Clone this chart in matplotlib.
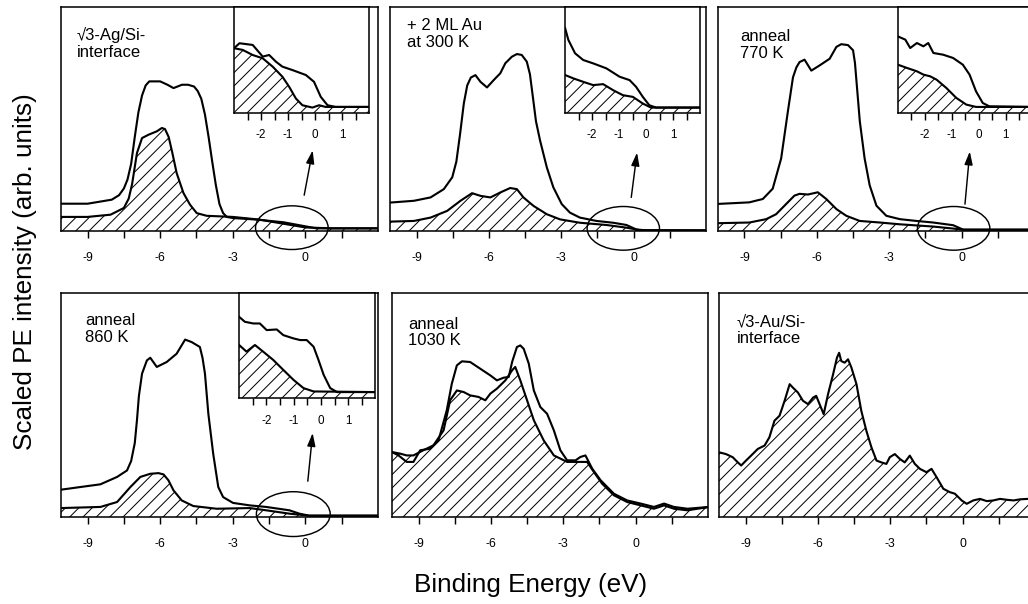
import matplotlib
matplotlib.use("Agg")
import matplotlib.pyplot as plt
from matplotlib.patches import Ellipse

plt.rcParams['font.family'] = ['Liberation Sans', 'DejaVu Sans']
plt.rcParams['axes.unicode_minus'] = False
plt.rcParams['hatch.linewidth'] = 0.9

# ---- data (binding energy in eV, intensity in arb. units 0-100) ----
labels = ['√3-Ag/Si-\ninterface', '+ 2 ML Au\nat 300 K', 'anneal\n770 K',
          'anneal\n860 K', 'anneal\n1030 K', '√3-Au/Si-\ninterface']

# panel 1: sqrt3-Ag/Si interface
p1_e_tot = [-10.1, -9.0, -8.0, -7.7, -7.5, -7.35, -7.2, -7.05, -6.9, -6.75, -6.6, -6.45, -6.0,
            -5.7, -5.45, -5.1, -4.85, -4.6, -4.45, -4.3, -4.15, -4.0, -3.85, -3.7, -3.55,
            -3.4, -3.25, -3.0, -2.0, -0.9, 0.0, 0.45, 3.0]
p1_tot = [12.2, 12.2, 14.0, 16.0, 19.0, 23.0, 30.0, 42.0, 53.0, 60.5, 65.0, 66.8, 66.8,
          65.3, 63.8, 65.3, 65.3, 64.5, 62.5, 59.0, 52.0, 42.0, 31.0, 20.5, 12.0,
          8.0, 6.3, 5.8, 5.1, 3.9, 2.1, 1.2, 1.2]
p1_e_h = [-10.1, -9.0, -8.05, -7.5, -7.3, -7.16, -6.96, -6.75, -6.48, -6.14, -5.93, -5.8,
          -5.65, -5.5, -5.32, -5.04, -4.77, -4.49, -4.08, -3.0, -1.9, -0.93, 0.0, 1.1, 3.0]
p1_h = [6.3, 6.3, 7.3, 10.3, 14.5, 21.0, 34.8, 41.5, 43.0, 44.5, 46.0, 45.5,
        42.0, 35.0, 25.9, 17.0, 11.8, 8.0, 6.8, 6.3, 5.1, 3.3, 1.6, 1.2, 1.2]
p1_ins_e_tot = [-3.0, -2.8, -2.31, -1.94, -1.7, -1.45, -1.21, -0.84, -0.34, -0.04, 0.21, 0.46, 0.76, 2.0]
p1_ins_tot = [61.1, 65.8, 64.2, 53.2, 54.7, 48.4, 43.7, 40.5, 35.8, 29.4, 15.2, 7.3, 5.7, 5.7]
p1_ins_e_h = [-3.0, -2.68, -2.31, -1.94, -1.57, -1.21, -0.96, -0.71, -0.47, -0.1, 0.15, 0.39, 2.0]
p1_ins_h = [61.1, 59.5, 54.7, 51.6, 43.7, 34.2, 24.7, 13.6, 7.3, 5.1, 7.3, 5.7, 5.7]

# panel 2: + 2 ML Au at 300 K
p2_e_tot = [-10.1, -9.11, -8.42, -7.87, -7.52, -7.35, -7.2, -7.04, -6.9, -6.75, -6.56, -6.35,
            -6.08, -5.8, -5.53, -5.32, -5.05, -4.84, -4.64, -4.43, -4.3, -4.18, -4.05, -3.88,
            -3.6, -3.33, -2.98, -2.64, -2.23, -1.54, -0.85, -0.3, 0.11, 0.52, 3.0]
p2_tot = [12.7, 13.5, 15.0, 18.7, 24.0, 31.0, 43.0, 57.0, 65.0, 68.5, 69.6, 66.6,
          64.1, 67.4, 70.4, 74.9, 77.8, 79.0, 78.6, 75.6, 70.0, 60.0, 49.0, 40.4,
          28.4, 19.5, 12.0, 8.2, 6.0, 4.5, 3.7, 2.7, 0.7, 0.3, 0.3]
p2_e_h = [-10.1, -9.11, -8.42, -7.73, -7.18, -6.7, -6.35, -5.94, -5.53, -5.12, -4.84, -4.57,
          -4.15, -3.6, -3.05, -2.23, -1.13, -0.3, 0.25, 3.0]
p2_h = [4.2, 4.5, 6.0, 9.0, 13.5, 16.9, 15.7, 15.0, 17.2, 19.2, 18.7, 15.0,
        11.2, 7.5, 5.2, 3.7, 2.7, 1.5, 0.4, 0.3]
p2_ins_e_tot = [-3.0, -2.88, -2.63, -2.33, -1.96, -1.47, -0.98, -0.61, -0.37, -0.12, 0.12, 0.37, 2.0]
p2_ins_tot = [80.1, 69.0, 56.3, 50.0, 46.8, 42.1, 34.2, 31.0, 24.7, 15.2, 7.3, 5.1, 5.1]
p2_ins_e_h = [-3.0, -2.69, -2.33, -1.96, -1.59, -1.22, -0.86, -0.49, -0.12, 0.18, 2.0]
p2_ins_h = [35.8, 32.6, 29.4, 26.3, 27.2, 21.5, 16.8, 15.2, 8.9, 5.1, 5.1]

# panel 3: anneal 770 K
p3_e_tot = [-10.1, -9.35, -8.8, -8.24, -7.83, -7.48, -7.2, -6.99, -6.85, -6.72, -6.51, -6.23,
            -5.89, -5.47, -5.19, -4.99, -4.71, -4.5, -4.42, -4.32, -4.22, -4.02, -3.81, -3.53,
            -3.12, -2.56, -1.87, -1.18, -0.35, 0.07, 3.0]
p3_tot = [12.1, 12.5, 12.8, 14.3, 18.9, 32.4, 53.5, 68.6, 73.0, 75.4, 76.5, 71.6,
          73.9, 76.9, 82.2, 83.4, 83.0, 80.7, 75.0, 62.0, 49.0, 32.4, 20.4, 11.3,
          6.8, 5.3, 4.5, 3.8, 2.6, 0.6, 0.6]
p3_e_h = [-10.1, -8.8, -8.1, -7.69, -7.27, -6.93, -6.72, -6.37, -5.96, -5.61, -5.19, -4.78,
          -4.22, -3.39, -2.56, -1.18, -0.35, 0.07, 3.0]
p3_h = [3.5, 3.8, 5.3, 7.5, 12.1, 15.8, 16.6, 16.3, 17.3, 14.3, 9.8, 6.8,
        4.5, 3.8, 3.0, 2.0, 1.1, 0.6, 0.6]
p3_ins_e_tot = [-3.0, -2.72, -2.54, -2.29, -2.05, -1.87, -1.68, -1.32, -0.95, -0.59, -0.34,
                -0.1, 0.15, 0.39, 2.0]
p3_ins_tot = [72.3, 69.2, 61.3, 66.0, 62.9, 66.0, 56.6, 55.0, 51.9, 45.6, 36.2,
              20.4, 9.4, 6.3, 5.7]
p3_ins_e_h = [-3.0, -2.66, -2.29, -2.05, -1.8, -1.56, -1.2, -0.83, -0.46, -0.1, 2.0]
p3_ins_h = [45.6, 42.5, 39.3, 36.2, 34.6, 31.4, 23.6, 14.2, 7.9, 5.7, 5.7]

# panel 4: anneal 860 K
p4_e_tot = [-10.1, -9.29, -8.47, -7.78, -7.37, -7.2, -7.05, -6.96, -6.88, -6.75, -6.55, -6.41,
            -6.14, -5.73, -5.32, -4.97, -4.7, -4.36, -4.25, -4.15, -4.01, -3.81, -3.6, -3.4,
            -2.99, -2.3, -1.62, -0.66, -0.25, 0.16, 3.0]
p4_tot = [12.2, 13.4, 14.6, 17.9, 20.8, 25.0, 33.0, 43.2, 54.0, 64.0, 69.9, 71.1,
          67.0, 69.2, 72.9, 79.2, 78.1, 75.9, 71.0, 64.0, 46.1, 28.3, 13.4, 8.9,
          6.3, 5.2, 4.5, 3.0, 1.5, 0.6, 0.6]
p4_e_h = [-10.1, -8.47, -7.78, -7.23, -6.82, -6.41, -6.07, -5.86, -5.66, -5.45, -5.11, -4.63,
          -3.67, -2.3, -1.62, -0.66, 0.16, 3.0]
p4_h = [4.0, 4.5, 6.7, 13.4, 17.9, 19.3, 19.6, 19.0, 16.4, 11.9, 7.4, 4.9,
        3.7, 4.0, 3.0, 1.5, 0.6, 0.6]
p4_ins_e_tot = [-3.0, -2.79, -2.48, -2.24, -1.99, -1.62, -1.38, -1.01, -0.76, -0.52, -0.27,
                -0.09, 0.1, 0.34, 0.59, 2.0]
p4_ins_tot = [77.3, 72.6, 71.0, 71.0, 64.7, 65.3, 59.9, 56.8, 55.2, 55.2, 48.9,
              36.3, 22.1, 9.5, 5.7, 5.7]
p4_ins_e_h = [-3.0, -2.73, -2.42, -2.12, -1.75, -1.38, -1.01, -0.64, -0.27, 2.0]
p4_ins_h = [50.5, 44.2, 50.5, 44.2, 36.3, 26.8, 17.4, 9.5, 6.3, 5.7]

# panel 5: anneal 1030 K
p5_e_tot = [-10.1, -9.83, -9.49, -9.21, -8.93, -8.52, -8.17, -7.83, -7.62, -7.41, -7.2, -6.86,
            -6.44, -6.02, -5.75, -5.47, -5.26, -5.12, -4.92, -4.78, -4.64, -4.43, -4.22, -3.95,
            -3.67, -3.39, -3.12, -2.84, -2.49, -2.29, -2.08, -1.8, -1.45, -0.9, -0.35, 0.21,
            0.76, 1.18, 1.59, 2.15, 3.05]
p5_tot = [29.0, 27.5, 24.6, 24.6, 29.8, 30.5, 34.2, 47.6, 59.5, 67.7, 69.5, 69.2,
          66.2, 63.2, 61.0, 62.2, 62.5, 69.2, 75.9, 76.6, 75.1, 68.5, 56.5, 49.1,
          46.1, 38.7, 29.8, 25.3, 25.3, 26.8, 27.5, 21.6, 16.4, 10.4, 7.4, 6.0,
          4.5, 6.0, 4.5, 3.7, 4.5]
p5_e_h = [-10.1, -9.76, -9.49, -9.21, -8.8, -8.38, -7.96, -7.69, -7.41, -7.13, -6.86, -6.51,
          -6.23, -6.02, -5.75, -5.4, -5.12, -4.99, -4.78, -4.5, -4.22, -3.81, -3.39, -2.84,
          -2.35, -2.01, -1.73, -1.39, -0.9, -0.35, 0.21, 0.76, 1.18, 1.59, 2.15, 3.05]
p5_h = [29.0, 28.3, 27.5, 27.5, 29.8, 32.0, 38.7, 52.1, 56.5, 55.8, 54.3, 53.6,
        52.1, 55.1, 57.3, 61.0, 65.5, 67.0, 61.0, 52.1, 43.2, 34.2, 27.5, 24.6,
        24.6, 24.6, 20.1, 14.9, 9.7, 6.7, 5.2, 3.7, 5.2, 3.7, 3.0, 4.5]

# panel 6: sqrt3-Au/Si interface (hatched only)
p6_e_h = [-10.1, -9.81, -9.53, -9.32, -9.18, -8.98, -8.77, -8.49, -8.21, -8.01, -7.8, -7.59,
          -7.38, -7.17, -7.04, -6.83, -6.62, -6.41, -6.2, -6.07, -5.93, -5.76, -5.58, -5.37,
          -5.21, -5.12, -5.03, -4.89, -4.75, -4.61, -4.4, -4.2, -3.99, -3.78, -3.57, -3.37,
          -3.16, -3.02, -2.81, -2.6, -2.4, -2.19, -1.98, -1.77, -1.5, -1.29, -1.08, -0.8,
          -0.53, -0.32, -0.04, 0.17, 0.44, 0.72, 1.0, 1.27, 1.55, 1.83, 2.11, 2.38, 2.71, 3.0]
p6_h = [28.9, 28.1, 26.7, 24.4, 23.0, 25.2, 27.4, 30.4, 31.9, 35.6, 43.0, 45.2,
        51.9, 59.3, 57.8, 55.6, 51.9, 50.4, 53.3, 54.1, 50.4, 45.9, 54.8, 63.7,
        71.1, 73.3, 69.6, 68.9, 70.4, 66.7, 59.3, 47.4, 38.5, 31.1, 25.2, 24.4,
        23.7, 26.7, 28.1, 25.9, 24.4, 27.4, 23.7, 21.5, 20.0, 21.5, 17.8, 12.6,
        11.1, 10.4, 7.4, 5.9, 7.4, 8.1, 7.1, 7.4, 8.1, 7.7, 7.4, 7.9, 8.1, 8.6]

# Fermi-level zoom markers: ellipse (centre E, centre I, width E, height I), arrow start/end
ellipses = [(-0.56, 1.5, 3.0, 19.5), (-0.43, 1.2, 3.0, 19.5), (-0.33, 1.2, 3.0, 19.5),
            (-0.5, 1.3, 3.05, 20.0)]
arrows = [((-0.05, 16), (0.3, 36)), ((-0.1, 15), (0.14, 35)), ((0.14, 12), (0.34, 35.5)),
          ((0.1, 16), (0.3, 37.5))]

# ---- layout ----
fig = plt.figure(figsize=(12.85, 7.55), dpi=80)

rects = [[0.0593, 0.6175, 0.3084, 0.3709], [0.3794, 0.6175, 0.3074, 0.3709],
         [0.6984, 0.6175, 0.3074, 0.3709], [0.0593, 0.1440, 0.3084, 0.3709],
         [0.3813, 0.1440, 0.3074, 0.3709], [0.6994, 0.1440, 0.3074, 0.3709]]
inset_rects = [[0.546, 0.527, 0.426, 0.473], [0.554, 0.527, 0.427, 0.473],
               [0.569, 0.527, 0.427, 0.473], [0.562, 0.531, 0.43, 0.469]]
label_pos = [(0.05, 0.91), (0.053, 0.95), (0.07, 0.90), (0.076, 0.91), (0.051, 0.895), (0.056, 0.905)]

totals = [(p1_e_tot, p1_tot), (p2_e_tot, p2_tot), (p3_e_tot, p3_tot),
          (p4_e_tot, p4_tot), (p5_e_tot, p5_tot), None]
hatched = [(p1_e_h, p1_h), (p2_e_h, p2_h), (p3_e_h, p3_h),
           (p4_e_h, p4_h), (p5_e_h, p5_h), (p6_e_h, p6_h)]
ins_totals = [(p1_ins_e_tot, p1_ins_tot), (p2_ins_e_tot, p2_ins_tot),
              (p3_ins_e_tot, p3_ins_tot), (p4_ins_e_tot, p4_ins_tot)]
ins_hatched = [(p1_ins_e_h, p1_ins_h), (p2_ins_e_h, p2_ins_h),
               (p3_ins_e_h, p3_ins_h), (p4_ins_e_h, p4_ins_h)]

LW = 1.9


def style_axes(ax, major, minor, pad, size):
    ax.set_yticks([])
    ax.set_xticks(major)
    ax.set_xticks(minor, minor=True)
    ax.set_xticklabels([f"{m:g}" for m in major])
    ax.tick_params(axis='x', which='both', direction='out', length=6.3, width=1.3,
                   pad=pad, labelsize=size, top=False)
    for s in ax.spines.values():
        s.set_linewidth(1.4)


def draw_curves(ax, tot, hat):
    e, h = hat
    ax.fill_between(e, 0, h, facecolor='white', edgecolor='black', hatch='//', linewidth=0)
    ax.plot(e, h, color='black', lw=LW)
    if tot is not None:
        ax.plot(tot[0], tot[1], color='black', lw=LW)


for i in range(6):
    ax = fig.add_axes(rects[i])
    draw_curves(ax, totals[i], hatched[i])
    ax.set_xlim(-10.1, 3.0)
    ax.set_ylim(0, 100)
    style_axes(ax, [-9, -6, -3, 0], [-7.5, -4.5, -1.5, 1.5], 12.5, 11)
    ax.text(label_pos[i][0], label_pos[i][1], labels[i], transform=ax.transAxes,
            ha='left', va='top', fontsize=15, linespacing=1.15)

    if i < 4:
        cx, cy, w, hgt = ellipses[i]
        ax.add_patch(Ellipse((cx, cy), w, hgt, fill=False, lw=1.3, ec='black', clip_on=False, zorder=5))
        (x0, y0), (x1, y1) = arrows[i]
        ax.annotate('', xy=(x1, y1), xytext=(x0, y0),
                    arrowprops=dict(arrowstyle='-|>,head_length=0.7,head_width=0.22',
                                    lw=1.3, color='black', mutation_scale=14, shrinkA=0, shrinkB=0))
        ins = ax.inset_axes(inset_rects[i])
        ins.set_facecolor('white')
        draw_curves(ins, ins_totals[i], ins_hatched[i])
        ins.set_xlim(-3.0, 2.0)
        ins.set_ylim(0, 100)
        style_axes(ins, [-2, -1, 0, 1], [-2.5, -1.5, -0.5, 0.5, 1.5], 8.5, 10.5)

fig.text(25 / 1028, 1 - 272 / 604, 'Scaled PE intensity (arb. units)', rotation=90,
         ha='center', va='center', fontsize=23.5)
fig.text(531 / 1028, 1 - 585 / 604, 'Binding Energy (eV)', ha='center', va='center', fontsize=23.5)

fig.savefig('out.png', dpi=80)
